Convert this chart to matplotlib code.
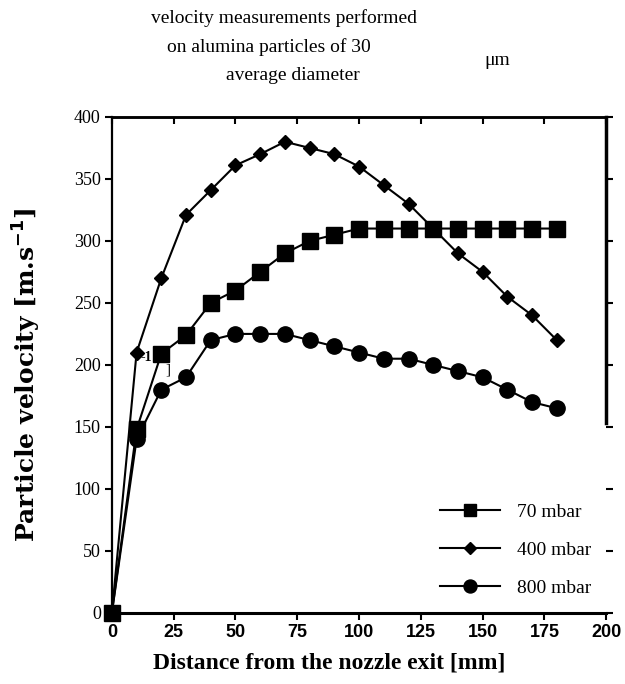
import matplotlib.pyplot as plt

# distance from nozzle exit (mm)
distance = [0, 10, 20, 30, 40, 50, 60, 70, 80, 90, 100, 110, 120, 130, 140, 150, 160, 170, 180]

# particle velocity (m/s) for each chamber pressure
v_70 = [0, 148, 209, 224, 250, 260, 275, 290, 300, 305, 310, 310, 310, 310, 310, 310, 310, 310, 310]
v_400 = [0, 210, 270, 321, 341, 361, 370, 380, 375, 370, 360, 345, 330, 310, 290, 275, 255, 240, 220]
v_800 = [0, 140, 180, 190, 220, 225, 225, 225, 220, 215, 210, 205, 205, 200, 195, 190, 180, 170, 165]

labels = ["70 mbar", "400 mbar", "800 mbar"]
x_ticks = [0, 25, 50, 75, 100, 125, 150, 175, 200]
y_ticks = [0, 50, 100, 150, 200, 250, 300, 350, 400]

serif = "Liberation Serif"
sans = "Liberation Sans"

fig = plt.figure(figsize=(6.25, 6.84), dpi=100)
ax = fig.add_axes([0.179, 0.104, 0.791, 0.725])

ax.plot(distance, v_70, color="black", lw=1.5, marker="s", ms=11, label=labels[0], zorder=3, clip_on=False)
ax.plot(distance, v_400, color="black", lw=1.5, marker="D", ms=7.5, label=labels[1], zorder=3, clip_on=False)
ax.plot(distance, v_800, color="black", lw=1.5, marker="o", ms=11, label=labels[2], zorder=3, clip_on=False)

ax.set_xlim(0, 200)
ax.set_ylim(0, 400)
ax.set_xticks(x_ticks)
ax.set_yticks(y_ticks)
for t in ax.get_xticklabels():
    t.set_fontfamily(sans)
    t.set_fontweight("bold")
    t.set_fontsize(13)
for t in ax.get_yticklabels():
    t.set_fontfamily(serif)
    t.set_fontsize(13)

ax.tick_params(axis="both", colors="black", length=5, width=1.5)
ax.tick_params(axis="x", direction="out", pad=3)
ax.tick_params(axis="y", direction="out", right=True, pad=3)

# top ticks point into the plot
top = ax.secondary_xaxis("top")
top.set_xticks(x_ticks)
top.tick_params(direction="in", length=5, width=1.5, labeltop=False)
top.spines["top"].set_linewidth(1.8)

ax.spines["bottom"].set_linewidth(2.2)
ax.spines["top"].set_linewidth(1.8)
ax.spines["left"].set_linewidth(1.6)
ax.spines["right"].set_linewidth(2.5)
ax.spines["right"].set_bounds(153, 400)

ax.set_xlabel("Distance from the nozzle exit [mm]", fontfamily=serif,
              fontweight="bold", fontsize=17)
ax.xaxis.set_label_coords(0.439, -0.079)
ax.set_ylabel("Particle velocity [m.s$^{\\mathbf{-1}}$]", fontfamily="DejaVu Serif",
              fontweight="bold", fontsize=18)
ax.yaxis.set_label_coords(-0.14, 0.48)

# stray fragments present in the original scan
ax.text(11.5, 203, "-1", fontfamily=serif, fontweight="bold", fontsize=10)
ax.text(21.5, 193, "]", fontfamily=serif, fontsize=11)

leg = ax.legend(loc="center left", bbox_to_anchor=(0.648, 0.127), frameon=False,
                borderaxespad=0, handlelength=3.1, labelspacing=1.05,
                handletextpad=0.85, markerscale=0.85,
                prop={"family": serif, "size": 14})

fig.text(0.455, 0.973, "velocity measurements performed", ha="center", va="center",
         fontfamily=serif, fontsize=14)
fig.text(0.43, 0.931, "on alumina particles of 30", ha="center", va="center",
         fontfamily=serif, fontsize=14)
fig.text(0.795, 0.912, "\u03bcm", ha="center", va="center",
         fontfamily=serif, fontsize=14)
fig.text(0.468, 0.889, "average diameter", ha="center", va="center",
         fontfamily=serif, fontsize=14)

fig.savefig("out.png", dpi=100, facecolor="white")
